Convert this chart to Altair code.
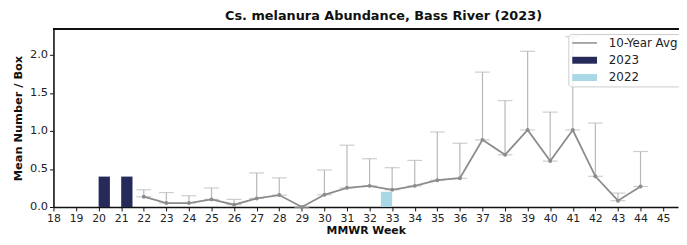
import altair as alt
import pandas as pd

# ---- data ----
weeks_avg = [22, 23, 24, 25, 26, 27, 28, 29, 30, 31, 32, 33, 34, 35, 36, 37, 38, 39, 40, 41, 42, 43, 44]
avg_vals = [0.135, 0.052, 0.052, 0.10, 0.03, 0.113, 0.157, 0.0, 0.16, 0.252, 0.278, 0.226, 0.278,
            0.352, 0.378, 0.883, 0.687, 1.013, 0.604, 1.013, 0.404, 0.083, 0.27]
avg_upper = [0.226, 0.19, 0.148, 0.25, 0.10, 0.448, 0.383, 0.0, 0.487, 0.813, 0.635, 0.517, 0.613,
             0.987, 0.839, 1.774, 1.40, 2.048, 1.248, 2.24, 1.104, 0.183, 0.73]

weeks_2023 = [20, 21]
vals_2023 = [0.4, 0.4]

weeks_2022 = [33]
vals_2022 = [0.2]

series_names = ["10-Year Avg", "2023", "2022"]
series_colors = ["#8c8c8c", "#252a5a", "#a8d8e6"]

title_text = "Cs. melanura Abundance, Bass River (2023)"
x_title = "MMWR Week"
y_title = "Mean Number / Box"
x_ticks = list(range(18, 46))
y_ticks = [0.0, 0.5, 1.0, 1.5, 2.0]

# ---- tables ----
avg_df = pd.DataFrame({"week": weeks_avg, "value": avg_vals, "upper": avg_upper,
                       "series": series_names[0]})
bar23 = pd.DataFrame({"week": weeks_2023, "value": vals_2023, "series": series_names[1]})
bar22 = pd.DataFrame({"week": weeks_2022, "value": vals_2022, "series": series_names[2]})
all_df = pd.concat([avg_df[["week", "value", "series"]], bar23, bar22], ignore_index=True)

W, H = 632, 180
FONT = "DejaVu Sans"
xscale = alt.Scale(domain=[18, 45.66], nice=False, zero=False)
yscale = alt.Scale(domain=[0, 2.34], nice=False)
cscale = alt.Scale(domain=series_names, range=series_colors)
shape_scale = alt.Scale(
    domain=series_names,
    range=["M-1,-0.15H4V0.15H-1Z", "M-1,-0.7H4V0.7H-1Z", "M-1,-0.7H4V0.7H-1Z"],
)

xaxis = alt.Axis(values=x_ticks, title=x_title, grid=False, labelFlush=False, labelOverlap=False,
                 labelFontSize=11, labelFont=FONT, labelColor="#222",
                 titleFont=FONT, titleFontSize=11, titleFontWeight="bold",
                 titleColor="#111", titlePadding=1, domainColor="#111", domainWidth=1.6,
                 tickColor="#111", tickSize=4, labelPadding=2)
yaxis = alt.Axis(values=y_ticks, format=".1f", title=y_title, grid=False, labelOverlap=False,
                 labelFontSize=11.5, labelFont=FONT, labelColor="#222",
                 titleFont=FONT, titleFontSize=11.5, titleFontWeight="bold",
                 titleColor="#111", titlePadding=6, domainColor="#111", domainWidth=1.6,
                 tickColor="#111", tickSize=4, labelPadding=2)


def X(field):
    return alt.X(field, scale=xscale, axis=xaxis, title=x_title)


def Y(field):
    return alt.Y(field, scale=yscale, axis=yaxis, title=y_title)


base_avg = alt.Chart(avg_df)

err = base_avg.mark_rule(color="#b8b8b8", strokeWidth=1.2).encode(
    x=X("week:Q"), y=Y("value:Q"), y2="upper:Q")
cap_hi = base_avg.mark_tick(color="#b8b8b8", orient="horizontal", size=15, thickness=1.2).encode(
    x=X("week:Q"), y=Y("upper:Q"))
cap_lo = base_avg.mark_tick(color="#b8b8b8", orient="horizontal", size=15, thickness=1.2).encode(
    x=X("week:Q"), y=Y("value:Q"))
line = base_avg.mark_line(color=series_colors[0], strokeWidth=1.8).encode(
    x=X("week:Q"), y=Y("value:Q"))
pts = base_avg.mark_point(filled=True, color=series_colors[0], size=16, opacity=1).encode(
    x=X("week:Q"), y=Y("value:Q"))

b23 = alt.Chart(bar23).transform_calculate(x2="datum.week + 0.5").mark_bar(
    color=series_colors[1]).encode(
    x=X("week:Q"), x2="x2:Q", y=Y("value:Q"), y2=alt.datum(0))
b22 = alt.Chart(bar22).transform_calculate(x1="datum.week - 0.5").mark_bar(
    color=series_colors[2]).encode(
    x=X("x1:Q"), x2="week:Q", y=Y("value:Q"), y2=alt.datum(0))

leg = dict(title=None, orient="none", legendX=521, legendY=5,
           symbolSize=100, symbolStrokeWidth=0, symbolOpacity=1, labelOffset=26,
           labelFont=FONT, labelFontSize=12, labelColor="#222",
           rowPadding=5.5, padding=3, strokeColor="#cccccc",
           fillColor="rgba(255,255,255,0.8)", cornerRadius=3)
legend_layer = alt.Chart(all_df).mark_point(filled=True, size=0).encode(
    x=X("week:Q"), y=Y("value:Q"),
    color=alt.Color("series:N", scale=cscale, legend=alt.Legend(**leg)),
    shape=alt.Shape("series:N", scale=shape_scale, legend=alt.Legend(**leg)),
)

top_line = alt.Chart(avg_df).mark_rule(color="#111", strokeWidth=1.6).encode(
    x=alt.value(0), x2=alt.value(W + 1), y=alt.value(0))

chart = alt.layer(err, cap_hi, cap_lo, line, pts, b23, b22, legend_layer, top_line).properties(
    width=W, height=H,
    title=alt.TitleParams(title_text, font=FONT, fontSize=13, fontWeight="bold",
                          color="#111", offset=5, dx=18),
    autosize=alt.AutoSizeParams(type="none"),
    padding={"left": 46, "top": 20, "right": 1, "bottom": 29},
).configure_view(stroke=None)

chart.save("out.html", embed_options={"renderer": "svg", "actions": False})
